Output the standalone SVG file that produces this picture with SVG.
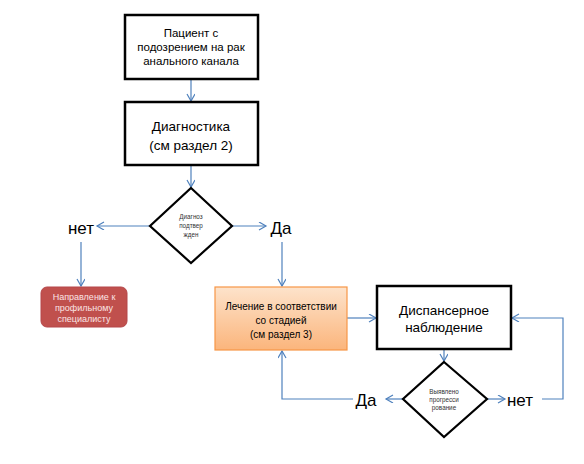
<svg xmlns="http://www.w3.org/2000/svg" width="584" height="464" viewBox="0 0 584 464">
<style>
.box{fill:#fff;stroke:#000;stroke-width:2.5}
.dia{fill:#fff;stroke:#000;stroke-width:2.2}
.c{fill:none;stroke:#4f81bd;stroke-width:1.2}
text{font-family:"Liberation Sans","DejaVu Sans",sans-serif;text-anchor:middle;fill:#000}
.t12{font-size:11.5px}
.t14{font-size:13.5px}
.t15{font-size:13.5px}
.tiny{font-size:6.3px;fill:#333}
.lbl{font-size:17px}
.red{font-size:9px;fill:#fbe4e4}
.or{font-size:10px}
</style>
<defs>
<marker id="ah" markerWidth="10" markerHeight="10" refX="8" refY="4" orient="auto" markerUnits="userSpaceOnUse">
<path d="M1,0 L8,4 L1,8" fill="none" stroke="#4f81bd" stroke-width="1.2"/>
</marker>
<linearGradient id="og" x1="0" y1="0" x2="0" y2="1">
<stop offset="0" stop-color="#fde3cb"/>
<stop offset="1" stop-color="#fbb57c"/>
</linearGradient>
</defs>

<g id="connectors">
<line class="c" x1="191" y1="80" x2="191" y2="101" marker-end="url(#ah)"/>
<line class="c" x1="191" y1="166" x2="191" y2="187" marker-end="url(#ah)"/>
<line class="c" x1="150" y1="226" x2="97" y2="226" marker-end="url(#ah)"/>
<line class="c" x1="232" y1="226" x2="266" y2="226" marker-end="url(#ah)"/>
<line class="c" x1="81" y1="242" x2="81" y2="286" marker-end="url(#ah)"/>
<line class="c" x1="282" y1="242" x2="282" y2="286" marker-end="url(#ah)"/>
<line class="c" x1="347" y1="318" x2="376" y2="318" marker-end="url(#ah)"/>
<line class="c" x1="444" y1="350" x2="444" y2="361" marker-end="url(#ah)"/>
<line class="c" x1="403" y1="399" x2="386" y2="399" marker-end="url(#ah)"/>
<polyline class="c" points="353,399 282,399 282,351" marker-end="url(#ah)"/>
<line class="c" x1="487" y1="399" x2="505" y2="399" marker-end="url(#ah)"/>
<polyline class="c" points="542,399 563,399 563,318 512,318" marker-end="url(#ah)"/>
</g>

<g id="n1">
<rect class="box" x="125" y="15" width="133" height="64"/>
<text class="t12" x="191" y="37">Пациент с</text>
<text class="t12" x="191" y="51">подозрением на рак</text>
<text class="t12" x="191" y="65">анального канала</text>
</g>

<g id="n2">
<rect class="box" x="125" y="102" width="133" height="63"/>
<text class="t14" x="191" y="131">Диагностика</text>
<text class="t14" x="191" y="150">(см раздел 2)</text>
</g>

<g id="d1">
<polygon class="dia" points="191,188 232,226 191,263 150,226"/>
<text class="tiny" x="191" y="219">Диагноз</text>
<text class="tiny" x="191" y="228">подтвер</text>
<text class="tiny" x="191" y="237">жден</text>
</g>

<g id="l-net1"><text class="lbl" x="81" y="234">нет</text></g>
<g id="l-da1"><text class="lbl" x="281" y="234">Да</text></g>

<g id="n-red">
<rect x="41" y="287" width="86" height="40" rx="6" fill="#c0504d" stroke="#b5474a" stroke-width="1"/>
<text class="red" x="84" y="300">Направление к</text>
<text class="red" x="84" y="311">профильному</text>
<text class="red" x="84" y="322">специалисту</text>
</g>

<g id="n-orange">
<rect x="215" y="287" width="132" height="63" fill="url(#og)" stroke="#f79646" stroke-width="1.2"/>
<text class="or" x="281" y="310">Лечение в соответствии</text>
<text class="or" x="281" y="324">со стадией</text>
<text class="or" x="281" y="338">(см раздел 3)</text>
</g>

<g id="n-disp">
<rect class="box" x="377" y="286" width="134" height="63"/>
<text class="t15" x="444" y="315">Диспансерное</text>
<text class="t15" x="444" y="332">наблюдение</text>
</g>

<g id="d2">
<polygon class="dia" points="444,362 487,399 444,437 403,399"/>
<text class="tiny" x="444" y="394">Выявлено</text>
<text class="tiny" x="444" y="402">прогресси</text>
<text class="tiny" x="444" y="410">рование</text>
</g>

<g id="l-da2"><text class="lbl" x="366" y="406">Да</text></g>
<g id="l-net2"><text class="lbl" x="520" y="406">нет</text></g>
</svg>
